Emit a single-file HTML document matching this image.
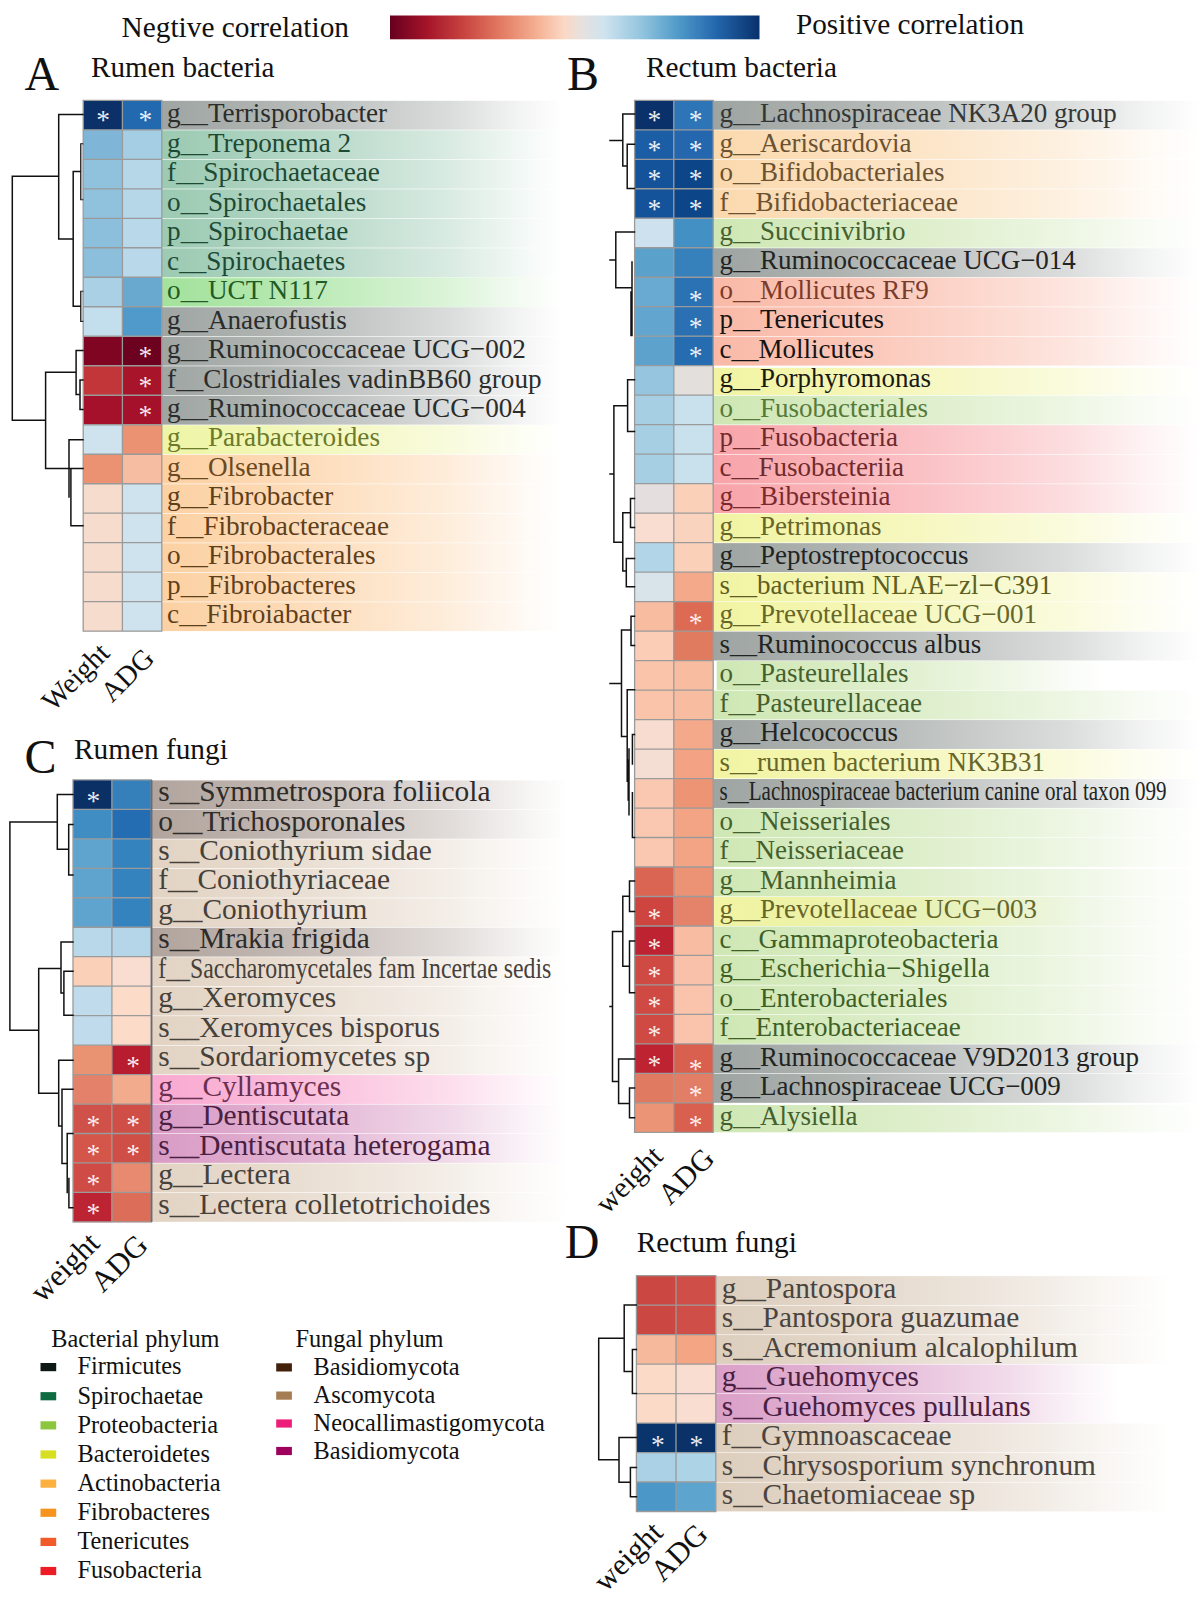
<!DOCTYPE html>
<html lang="en">
<head>
<meta charset="utf-8">
<title>Correlation heatmaps</title>
<style>
html,body{margin:0;padding:0;background:#fff;}
body{width:1202px;height:1598px;overflow:hidden;}
svg{display:block;}
svg text{font-family:"Liberation Serif", "DejaVu Serif", serif;white-space:pre;}
.st{font-size:27.5px;fill:#fff;fill-opacity:.92;text-anchor:middle;}
</style>
</head>
<body>
<svg width="1202" height="1598" viewBox="0 0 1202 1598">
<defs>
<linearGradient id="cb" x1="0" y1="0" x2="1" y2="0"><stop offset="0" stop-color="#67001f"/><stop offset="0.1" stop-color="#a51429"/><stop offset="0.2" stop-color="#c84440"/><stop offset="0.3" stop-color="#e27b62"/><stop offset="0.4" stop-color="#f5b194"/><stop offset="0.47" stop-color="#fbd8c4"/><stop offset="0.52" stop-color="#e6e1df"/><stop offset="0.58" stop-color="#cfe3ef"/><stop offset="0.68" stop-color="#93c5de"/><stop offset="0.78" stop-color="#4f9ac9"/><stop offset="0.88" stop-color="#2468ae"/><stop offset="1" stop-color="#08306b"/></linearGradient>
<linearGradient id="g0" x1="0" y1="0" x2="1" y2="0"><stop offset="0" stop-color="#9fa5a2" stop-opacity="1"/><stop offset="0.25" stop-color="#9fa5a2" stop-opacity="0.84"/><stop offset="0.47" stop-color="#9fa5a2" stop-opacity="0.64"/><stop offset="0.72" stop-color="#9fa5a2" stop-opacity="0.38"/><stop offset="0.89" stop-color="#9fa5a2" stop-opacity="0.13"/><stop offset="1" stop-color="#9fa5a2" stop-opacity="0"/></linearGradient>
<linearGradient id="g1" x1="0" y1="0" x2="1" y2="0"><stop offset="0" stop-color="#9ccab3" stop-opacity="1"/><stop offset="0.25" stop-color="#9ccab3" stop-opacity="0.84"/><stop offset="0.47" stop-color="#9ccab3" stop-opacity="0.64"/><stop offset="0.72" stop-color="#9ccab3" stop-opacity="0.38"/><stop offset="0.89" stop-color="#9ccab3" stop-opacity="0.13"/><stop offset="1" stop-color="#9ccab3" stop-opacity="0"/></linearGradient>
<linearGradient id="g2" x1="0" y1="0" x2="1" y2="0"><stop offset="0" stop-color="#a3e29c" stop-opacity="1"/><stop offset="0.25" stop-color="#a3e29c" stop-opacity="0.84"/><stop offset="0.47" stop-color="#a3e29c" stop-opacity="0.64"/><stop offset="0.72" stop-color="#a3e29c" stop-opacity="0.38"/><stop offset="0.89" stop-color="#a3e29c" stop-opacity="0.13"/><stop offset="1" stop-color="#a3e29c" stop-opacity="0"/></linearGradient>
<linearGradient id="g3" x1="0" y1="0" x2="1" y2="0"><stop offset="0" stop-color="#d0f2cb" stop-opacity="1"/><stop offset="0.25" stop-color="#d0f2cb" stop-opacity="0.84"/><stop offset="0.47" stop-color="#d0f2cb" stop-opacity="0.64"/><stop offset="0.72" stop-color="#d0f2cb" stop-opacity="0.38"/><stop offset="0.89" stop-color="#d0f2cb" stop-opacity="0.13"/><stop offset="1" stop-color="#d0f2cb" stop-opacity="0"/></linearGradient>
<linearGradient id="g4" x1="0" y1="0" x2="1" y2="0"><stop offset="0" stop-color="#eef5a6" stop-opacity="1"/><stop offset="0.25" stop-color="#eef5a6" stop-opacity="0.84"/><stop offset="0.47" stop-color="#eef5a6" stop-opacity="0.64"/><stop offset="0.72" stop-color="#eef5a6" stop-opacity="0.38"/><stop offset="0.89" stop-color="#eef5a6" stop-opacity="0.13"/><stop offset="1" stop-color="#eef5a6" stop-opacity="0"/></linearGradient>
<linearGradient id="g5" x1="0" y1="0" x2="1" y2="0"><stop offset="0" stop-color="#fdd0a2" stop-opacity="1"/><stop offset="0.25" stop-color="#fdd0a2" stop-opacity="0.84"/><stop offset="0.47" stop-color="#fdd0a2" stop-opacity="0.64"/><stop offset="0.72" stop-color="#fdd0a2" stop-opacity="0.38"/><stop offset="0.89" stop-color="#fdd0a2" stop-opacity="0.13"/><stop offset="1" stop-color="#fdd0a2" stop-opacity="0"/></linearGradient>
<linearGradient id="g6" x1="0" y1="0" x2="1" y2="0"><stop offset="0" stop-color="#fcd1a3" stop-opacity="1"/><stop offset="0.25" stop-color="#fcd1a3" stop-opacity="0.84"/><stop offset="0.47" stop-color="#fcd1a3" stop-opacity="0.64"/><stop offset="0.72" stop-color="#fcd1a3" stop-opacity="0.38"/><stop offset="0.89" stop-color="#fcd1a3" stop-opacity="0.13"/><stop offset="1" stop-color="#fcd1a3" stop-opacity="0"/></linearGradient>
<linearGradient id="g7" x1="0" y1="0" x2="1" y2="0"><stop offset="0" stop-color="#9ea4a1" stop-opacity="1"/><stop offset="0.25" stop-color="#9ea4a1" stop-opacity="0.84"/><stop offset="0.47" stop-color="#9ea4a1" stop-opacity="0.64"/><stop offset="0.72" stop-color="#9ea4a1" stop-opacity="0.38"/><stop offset="0.89" stop-color="#9ea4a1" stop-opacity="0.13"/><stop offset="1" stop-color="#9ea4a1" stop-opacity="0"/></linearGradient>
<linearGradient id="g8" x1="0" y1="0" x2="1" y2="0"><stop offset="0" stop-color="#fbd9ae" stop-opacity="1"/><stop offset="0.25" stop-color="#fbd9ae" stop-opacity="0.84"/><stop offset="0.47" stop-color="#fbd9ae" stop-opacity="0.64"/><stop offset="0.72" stop-color="#fbd9ae" stop-opacity="0.38"/><stop offset="0.89" stop-color="#fbd9ae" stop-opacity="0.13"/><stop offset="1" stop-color="#fbd9ae" stop-opacity="0"/></linearGradient>
<linearGradient id="g9" x1="0" y1="0" x2="1" y2="0"><stop offset="0" stop-color="#cfe7b4" stop-opacity="1"/><stop offset="0.25" stop-color="#cfe7b4" stop-opacity="0.84"/><stop offset="0.47" stop-color="#cfe7b4" stop-opacity="0.64"/><stop offset="0.72" stop-color="#cfe7b4" stop-opacity="0.38"/><stop offset="0.89" stop-color="#cfe7b4" stop-opacity="0.13"/><stop offset="1" stop-color="#cfe7b4" stop-opacity="0"/></linearGradient>
<linearGradient id="g10" x1="0" y1="0" x2="1" y2="0"><stop offset="0" stop-color="#fab9a7" stop-opacity="1"/><stop offset="0.25" stop-color="#fab9a7" stop-opacity="0.84"/><stop offset="0.47" stop-color="#fab9a7" stop-opacity="0.64"/><stop offset="0.72" stop-color="#fab9a7" stop-opacity="0.38"/><stop offset="0.89" stop-color="#fab9a7" stop-opacity="0.13"/><stop offset="1" stop-color="#fab9a7" stop-opacity="0"/></linearGradient>
<linearGradient id="g11" x1="0" y1="0" x2="1" y2="0"><stop offset="0" stop-color="#f2f4a3" stop-opacity="1"/><stop offset="0.25" stop-color="#f2f4a3" stop-opacity="0.84"/><stop offset="0.47" stop-color="#f2f4a3" stop-opacity="0.64"/><stop offset="0.72" stop-color="#f2f4a3" stop-opacity="0.38"/><stop offset="0.89" stop-color="#f2f4a3" stop-opacity="0.13"/><stop offset="1" stop-color="#f2f4a3" stop-opacity="0"/></linearGradient>
<linearGradient id="g12" x1="0" y1="0" x2="1" y2="0"><stop offset="0" stop-color="#f8a4a9" stop-opacity="1"/><stop offset="0.25" stop-color="#f8a4a9" stop-opacity="0.84"/><stop offset="0.47" stop-color="#f8a4a9" stop-opacity="0.64"/><stop offset="0.72" stop-color="#f8a4a9" stop-opacity="0.38"/><stop offset="0.89" stop-color="#f8a4a9" stop-opacity="0.13"/><stop offset="1" stop-color="#f8a4a9" stop-opacity="0"/></linearGradient>
<linearGradient id="g13" x1="0" y1="0" x2="1" y2="0"><stop offset="0" stop-color="#b1a49d" stop-opacity="1"/><stop offset="0.25" stop-color="#b1a49d" stop-opacity="0.84"/><stop offset="0.47" stop-color="#b1a49d" stop-opacity="0.64"/><stop offset="0.72" stop-color="#b1a49d" stop-opacity="0.38"/><stop offset="0.89" stop-color="#b1a49d" stop-opacity="0.13"/><stop offset="1" stop-color="#b1a49d" stop-opacity="0"/></linearGradient>
<linearGradient id="g14" x1="0" y1="0" x2="1" y2="0"><stop offset="0" stop-color="#e2d3c3" stop-opacity="1"/><stop offset="0.25" stop-color="#e2d3c3" stop-opacity="0.84"/><stop offset="0.47" stop-color="#e2d3c3" stop-opacity="0.64"/><stop offset="0.72" stop-color="#e2d3c3" stop-opacity="0.38"/><stop offset="0.89" stop-color="#e2d3c3" stop-opacity="0.13"/><stop offset="1" stop-color="#e2d3c3" stop-opacity="0"/></linearGradient>
<linearGradient id="g15" x1="0" y1="0" x2="1" y2="0"><stop offset="0" stop-color="#f9a9d0" stop-opacity="1"/><stop offset="0.25" stop-color="#f9a9d0" stop-opacity="0.84"/><stop offset="0.47" stop-color="#f9a9d0" stop-opacity="0.64"/><stop offset="0.72" stop-color="#f9a9d0" stop-opacity="0.38"/><stop offset="0.89" stop-color="#f9a9d0" stop-opacity="0.13"/><stop offset="1" stop-color="#f9a9d0" stop-opacity="0"/></linearGradient>
<linearGradient id="g16" x1="0" y1="0" x2="1" y2="0"><stop offset="0" stop-color="#d99bc5" stop-opacity="1"/><stop offset="0.25" stop-color="#d99bc5" stop-opacity="0.84"/><stop offset="0.47" stop-color="#d99bc5" stop-opacity="0.64"/><stop offset="0.72" stop-color="#d99bc5" stop-opacity="0.38"/><stop offset="0.89" stop-color="#d99bc5" stop-opacity="0.13"/><stop offset="1" stop-color="#d99bc5" stop-opacity="0"/></linearGradient>
<linearGradient id="g17" x1="0" y1="0" x2="1" y2="0"><stop offset="0" stop-color="#ddcebd" stop-opacity="1"/><stop offset="0.25" stop-color="#ddcebd" stop-opacity="0.84"/><stop offset="0.47" stop-color="#ddcebd" stop-opacity="0.64"/><stop offset="0.72" stop-color="#ddcebd" stop-opacity="0.38"/><stop offset="0.89" stop-color="#ddcebd" stop-opacity="0.13"/><stop offset="1" stop-color="#ddcebd" stop-opacity="0"/></linearGradient>
<linearGradient id="g18" x1="0" y1="0" x2="1" y2="0"><stop offset="0" stop-color="#dba0c8" stop-opacity="1"/><stop offset="0.25" stop-color="#dba0c8" stop-opacity="0.84"/><stop offset="0.47" stop-color="#dba0c8" stop-opacity="0.64"/><stop offset="0.72" stop-color="#dba0c8" stop-opacity="0.38"/><stop offset="0.89" stop-color="#dba0c8" stop-opacity="0.13"/><stop offset="1" stop-color="#dba0c8" stop-opacity="0"/></linearGradient>
</defs>
<rect x="390" y="15.5" width="369.5" height="23.8" fill="url(#cb)"/>
<text x="121.5" y="36.5" font-size="29.3" fill="#111" textLength="227.5" lengthAdjust="spacingAndGlyphs">Negtive correlation</text>
<text x="796" y="34.3" font-size="29.3" fill="#111" textLength="228" lengthAdjust="spacingAndGlyphs">Positive correlation</text>
<text x="24.6" y="89.6" font-size="48" fill="#111">A</text>
<text x="91" y="77" font-size="29.3" fill="#111" textLength="183.5" lengthAdjust="spacingAndGlyphs">Rumen bacteria</text>
<text x="567" y="89.6" font-size="48" fill="#111">B</text>
<text x="646" y="77.3" font-size="29.3" fill="#111" textLength="191" lengthAdjust="spacingAndGlyphs">Rectum bacteria</text>
<text x="24.6" y="773.4" font-size="48" fill="#111">C</text>
<text x="74" y="759.2" font-size="29.3" fill="#111">Rumen fungi</text>
<text x="564.8" y="1257.6" font-size="48" fill="#111">D</text>
<text x="636.8" y="1251.6" font-size="29.3" fill="#111" textLength="160" lengthAdjust="spacingAndGlyphs">Rectum fungi</text>
<rect x="161.80" y="100.80" width="401.20" height="28.89" fill="url(#g0)"/>
<rect x="161.80" y="130.29" width="401.20" height="28.89" fill="url(#g1)"/>
<rect x="161.80" y="159.79" width="401.20" height="28.89" fill="url(#g1)"/>
<rect x="161.80" y="189.28" width="401.20" height="28.89" fill="url(#g1)"/>
<rect x="161.80" y="218.78" width="401.20" height="28.89" fill="url(#g1)"/>
<rect x="161.80" y="248.27" width="401.20" height="28.89" fill="url(#g1)"/>
<rect x="161.80" y="277.77" width="401.20" height="28.89" fill="url(#g2)" stroke="url(#g3)" stroke-width="1.2"/>
<rect x="161.80" y="307.26" width="401.20" height="28.89" fill="url(#g0)"/>
<rect x="161.80" y="336.76" width="401.20" height="28.89" fill="url(#g0)"/>
<rect x="161.80" y="366.25" width="401.20" height="28.89" fill="url(#g0)"/>
<rect x="161.80" y="395.74" width="401.20" height="28.89" fill="url(#g0)"/>
<rect x="161.80" y="425.24" width="401.20" height="28.89" fill="url(#g4)"/>
<rect x="161.80" y="454.73" width="401.20" height="28.89" fill="url(#g5)"/>
<rect x="161.80" y="484.23" width="401.20" height="28.89" fill="url(#g6)"/>
<rect x="161.80" y="513.72" width="401.20" height="28.89" fill="url(#g6)"/>
<rect x="161.80" y="543.22" width="401.20" height="28.89" fill="url(#g6)"/>
<rect x="161.80" y="572.71" width="401.20" height="28.89" fill="url(#g6)"/>
<rect x="161.80" y="602.21" width="401.20" height="28.89" fill="url(#g6)"/>
<rect x="83.20" y="100.30" width="39.20" height="29.79" fill="#0b3168"/>
<rect x="122.40" y="100.30" width="39.40" height="29.79" fill="#2369b0"/>
<rect x="83.20" y="129.79" width="39.20" height="29.79" fill="#7fb6d7"/>
<rect x="122.40" y="129.79" width="39.40" height="29.79" fill="#a5cde3"/>
<rect x="83.20" y="159.29" width="39.20" height="29.79" fill="#90c2de"/>
<rect x="122.40" y="159.29" width="39.40" height="29.79" fill="#b6d7e8"/>
<rect x="83.20" y="188.78" width="39.20" height="29.79" fill="#90c2de"/>
<rect x="122.40" y="188.78" width="39.40" height="29.79" fill="#b6d7e8"/>
<rect x="83.20" y="218.28" width="39.20" height="29.79" fill="#8cbfdc"/>
<rect x="122.40" y="218.28" width="39.40" height="29.79" fill="#b9d8ea"/>
<rect x="83.20" y="247.77" width="39.20" height="29.79" fill="#8cbfdc"/>
<rect x="122.40" y="247.77" width="39.40" height="29.79" fill="#b9d8ea"/>
<rect x="83.20" y="277.27" width="39.20" height="29.79" fill="#a9d0e5"/>
<rect x="122.40" y="277.27" width="39.40" height="29.79" fill="#69a9d0"/>
<rect x="83.20" y="306.76" width="39.20" height="29.79" fill="#c3deed"/>
<rect x="122.40" y="306.76" width="39.40" height="29.79" fill="#4f9aca"/>
<rect x="83.20" y="336.26" width="39.20" height="29.79" fill="#7f0523"/>
<rect x="122.40" y="336.26" width="39.40" height="29.79" fill="#6d0220"/>
<rect x="83.20" y="365.75" width="39.20" height="29.79" fill="#c23639"/>
<rect x="122.40" y="365.75" width="39.40" height="29.79" fill="#a8152b"/>
<rect x="83.20" y="395.24" width="39.20" height="29.79" fill="#a5112b"/>
<rect x="122.40" y="395.24" width="39.40" height="29.79" fill="#a5112b"/>
<rect x="83.20" y="424.74" width="39.20" height="29.79" fill="#cfe3ef"/>
<rect x="122.40" y="424.74" width="39.40" height="29.79" fill="#ea9272"/>
<rect x="83.20" y="454.23" width="39.20" height="29.79" fill="#ea9272"/>
<rect x="122.40" y="454.23" width="39.40" height="29.79" fill="#f7bda3"/>
<rect x="83.20" y="483.73" width="39.20" height="29.79" fill="#f6dccd"/>
<rect x="122.40" y="483.73" width="39.40" height="29.79" fill="#cfe3ef"/>
<rect x="83.20" y="513.22" width="39.20" height="29.79" fill="#f6dccd"/>
<rect x="122.40" y="513.22" width="39.40" height="29.79" fill="#cfe3ef"/>
<rect x="83.20" y="542.72" width="39.20" height="29.79" fill="#f6dccd"/>
<rect x="122.40" y="542.72" width="39.40" height="29.79" fill="#cfe3ef"/>
<rect x="83.20" y="572.21" width="39.20" height="29.79" fill="#f6dccd"/>
<rect x="122.40" y="572.21" width="39.40" height="29.79" fill="#cfe3ef"/>
<rect x="83.20" y="601.71" width="39.20" height="29.79" fill="#f6dccd"/>
<rect x="122.40" y="601.71" width="39.40" height="29.79" fill="#cfe3ef"/>
<path d="M83.20 100.30H161.80M83.20 129.79H161.80M83.20 159.29H161.80M83.20 188.78H161.80M83.20 218.28H161.80M83.20 247.77H161.80M83.20 277.27H161.80M83.20 306.76H161.80M83.20 336.26H161.80M83.20 365.75H161.80M83.20 395.24H161.80M83.20 424.74H161.80M83.20 454.23H161.80M83.20 483.73H161.80M83.20 513.22H161.80M83.20 542.72H161.80M83.20 572.21H161.80M83.20 601.71H161.80M83.20 631.20H161.80M83.20 100.30V631.20M122.40 100.30V631.20M161.80 100.30V631.20" stroke="#9a9a9a" stroke-width="1.3" fill="none" stroke-linecap="square"/>
<text class="st" x="103.20" y="129.35">*</text>
<text class="st" x="145.30" y="129.35">*</text>
<text class="st" x="145.30" y="365.30">*</text>
<text class="st" x="145.30" y="394.80">*</text>
<text class="st" x="145.30" y="424.29">*</text>
<text x="167.10" y="122.05" font-size="27.20" fill="#2b2d2c">g__Terrisporobacter</text>
<text x="167.10" y="151.54" font-size="27.20" fill="#1d4a35">g__Treponema 2</text>
<text x="167.10" y="181.04" font-size="27.20" fill="#1d4a35">f__Spirochaetaceae</text>
<text x="167.10" y="210.53" font-size="27.20" fill="#1d4a35">o__Spirochaetales</text>
<text x="167.10" y="240.03" font-size="27.20" fill="#1d4a35">p__Spirochaetae</text>
<text x="167.10" y="269.52" font-size="27.20" fill="#1d4a35">c__Spirochaetes</text>
<text x="167.10" y="299.01" font-size="27.20" fill="#215c26">o__UCT N117</text>
<text x="167.10" y="328.51" font-size="27.20" fill="#2b2d2c">g__Anaerofustis</text>
<text x="167.10" y="358.00" font-size="27.20" fill="#2b2d2c">g__Ruminococcaceae UCG−002</text>
<text x="167.10" y="387.50" font-size="27.20" fill="#2b2d2c">f__Clostridiales vadinBB60 group</text>
<text x="167.10" y="416.99" font-size="27.20" fill="#2b2d2c">g__Ruminococcaceae UCG−004</text>
<text x="167.10" y="446.49" font-size="27.20" fill="#6d7a2a">g__Parabacteroides</text>
<text x="167.10" y="475.98" font-size="27.20" fill="#6b4a22">g__Olsenella</text>
<text x="167.10" y="505.48" font-size="27.20" fill="#5e3f1c">g__Fibrobacter</text>
<text x="167.10" y="534.97" font-size="27.20" fill="#5e3f1c">f__Fibrobacteraceae</text>
<text x="167.10" y="564.46" font-size="27.20" fill="#5e3f1c">o__Fibrobacterales</text>
<text x="167.10" y="593.96" font-size="27.20" fill="#5e3f1c">p__Fibrobacteres</text>
<text x="167.10" y="623.45" font-size="27.20" fill="#5e3f1c">c__Fibroiabacter</text>
<path d="M83 114.5H58.7V238.9H73.2 M73.2 171.4V306.3 M73.2 171.4H80.9 M82.5 144H80.9V199.5H82.5 M73.2 306.3H80.9 M82.5 291.4H80.9V321.2H82.5 M58.7 176.3H12.3V420.3H45.6 M45.6 372.3V468.5 M45.6 372.3H76.1 M76.1 350.4V394.5 M76.1 350.4H83 M76.1 394.5H80 M80 380V409.6 M80 380H83 M80 409.6H83 M45.6 468.5H83 M69 439.7V497 M69 439.7H83 M70.9 468.8V525.7H83" stroke="#111" stroke-width="1.5" fill="none" stroke-linecap="square" stroke-linejoin="miter"/>
<text font-size="28.5" fill="#111" transform="translate(111.0 654.7) rotate(-45)" text-anchor="end">Weight</text>
<text font-size="28.5" fill="#111" transform="translate(155.7 659.9) rotate(-45)" text-anchor="end">ADG</text>
<rect x="713.20" y="100.80" width="486.80" height="28.89" fill="url(#g7)"/>
<rect x="713.20" y="130.29" width="486.80" height="28.89" fill="url(#g8)"/>
<rect x="713.20" y="159.78" width="486.80" height="28.89" fill="url(#g8)"/>
<rect x="713.20" y="189.27" width="486.80" height="28.89" fill="url(#g8)"/>
<rect x="713.20" y="218.75" width="486.80" height="28.89" fill="url(#g9)"/>
<rect x="713.20" y="248.24" width="486.80" height="28.89" fill="url(#g7)"/>
<rect x="713.20" y="277.73" width="486.80" height="28.89" fill="url(#g10)"/>
<rect x="713.20" y="307.22" width="486.80" height="28.89" fill="url(#g10)"/>
<rect x="713.20" y="336.71" width="486.80" height="28.89" fill="url(#g10)"/>
<rect x="713.20" y="367.80" width="486.80" height="27.29" fill="url(#g11)"/>
<rect x="713.20" y="395.69" width="486.80" height="28.89" fill="url(#g9)"/>
<rect x="713.20" y="425.17" width="486.80" height="28.89" fill="url(#g12)"/>
<rect x="713.20" y="454.66" width="486.80" height="28.89" fill="url(#g12)"/>
<rect x="713.20" y="484.15" width="486.80" height="28.89" fill="url(#g12)"/>
<rect x="713.20" y="513.64" width="486.80" height="28.89" fill="url(#g11)"/>
<rect x="713.20" y="543.13" width="486.80" height="28.89" fill="url(#g7)"/>
<rect x="713.20" y="572.62" width="486.80" height="28.89" fill="url(#g11)"/>
<rect x="713.20" y="602.11" width="486.80" height="28.89" fill="url(#g11)"/>
<rect x="713.20" y="631.59" width="486.80" height="28.89" fill="url(#g7)"/>
<rect x="716.70" y="661.08" width="388.30" height="28.89" fill="url(#g9)"/>
<rect x="713.20" y="690.57" width="486.80" height="28.89" fill="url(#g9)"/>
<rect x="713.20" y="720.06" width="486.80" height="28.89" fill="url(#g7)"/>
<rect x="713.20" y="749.55" width="486.80" height="28.89" fill="url(#g11)"/>
<rect x="713.20" y="779.04" width="486.80" height="28.89" fill="url(#g7)"/>
<rect x="713.20" y="808.53" width="486.80" height="28.89" fill="url(#g9)"/>
<rect x="713.20" y="838.01" width="486.80" height="28.89" fill="url(#g9)"/>
<rect x="713.20" y="868.90" width="486.80" height="27.49" fill="url(#g9)"/>
<rect x="713.20" y="896.99" width="486.80" height="28.89" fill="url(#g9)"/>
<rect x="713.20" y="896.99" width="366.80" height="28.89" fill="url(#g11)"/>
<rect x="713.20" y="926.48" width="486.80" height="28.89" fill="url(#g9)"/>
<rect x="713.20" y="955.97" width="486.80" height="28.89" fill="url(#g9)"/>
<rect x="713.20" y="985.46" width="486.80" height="28.89" fill="url(#g9)"/>
<rect x="713.20" y="1014.95" width="486.80" height="28.89" fill="url(#g9)"/>
<rect x="713.20" y="1044.43" width="486.80" height="28.89" fill="url(#g7)"/>
<rect x="713.20" y="1073.92" width="486.80" height="28.89" fill="url(#g7)"/>
<rect x="713.20" y="1105.01" width="486.80" height="27.29" fill="url(#g9)"/>
<rect x="634.60" y="100.30" width="39.20" height="29.79" fill="#0a3169"/>
<rect x="673.80" y="100.30" width="39.40" height="29.79" fill="#2d75b6"/>
<rect x="634.60" y="129.79" width="39.20" height="29.79" fill="#1c5ea5"/>
<rect x="673.80" y="129.79" width="39.40" height="29.79" fill="#2467ae"/>
<rect x="634.60" y="159.28" width="39.20" height="29.79" fill="#14529a"/>
<rect x="673.80" y="159.28" width="39.40" height="29.79" fill="#0d4688"/>
<rect x="634.60" y="188.77" width="39.20" height="29.79" fill="#14529a"/>
<rect x="673.80" y="188.77" width="39.40" height="29.79" fill="#0d4688"/>
<rect x="634.60" y="218.25" width="39.20" height="29.79" fill="#cde2ee"/>
<rect x="673.80" y="218.25" width="39.40" height="29.79" fill="#4390c4"/>
<rect x="634.60" y="247.74" width="39.20" height="29.79" fill="#5aa1cc"/>
<rect x="673.80" y="247.74" width="39.40" height="29.79" fill="#3680bc"/>
<rect x="634.60" y="277.23" width="39.20" height="29.79" fill="#68aad1"/>
<rect x="673.80" y="277.23" width="39.40" height="29.79" fill="#2b72b4"/>
<rect x="634.60" y="306.72" width="39.20" height="29.79" fill="#62a6cf"/>
<rect x="673.80" y="306.72" width="39.40" height="29.79" fill="#2a70b3"/>
<rect x="634.60" y="336.21" width="39.20" height="29.79" fill="#5da2cd"/>
<rect x="673.80" y="336.21" width="39.40" height="29.79" fill="#256cb0"/>
<rect x="634.60" y="365.70" width="39.20" height="29.79" fill="#96c5df"/>
<rect x="673.80" y="365.70" width="39.40" height="29.79" fill="#e2dfdd"/>
<rect x="634.60" y="395.19" width="39.20" height="29.79" fill="#a6cfe4"/>
<rect x="673.80" y="395.19" width="39.40" height="29.79" fill="#c9e0ed"/>
<rect x="634.60" y="424.67" width="39.20" height="29.79" fill="#a6cfe4"/>
<rect x="673.80" y="424.67" width="39.40" height="29.79" fill="#c9e0ed"/>
<rect x="634.60" y="454.16" width="39.20" height="29.79" fill="#a6cfe4"/>
<rect x="673.80" y="454.16" width="39.40" height="29.79" fill="#c9e0ed"/>
<rect x="634.60" y="483.65" width="39.20" height="29.79" fill="#e4dfde"/>
<rect x="673.80" y="483.65" width="39.40" height="29.79" fill="#fbd0b9"/>
<rect x="634.60" y="513.14" width="39.20" height="29.79" fill="#f8ddd0"/>
<rect x="673.80" y="513.14" width="39.40" height="29.79" fill="#fad3bf"/>
<rect x="634.60" y="542.63" width="39.20" height="29.79" fill="#b2d6e8"/>
<rect x="673.80" y="542.63" width="39.40" height="29.79" fill="#fbd0b9"/>
<rect x="634.60" y="572.12" width="39.20" height="29.79" fill="#d9e3ea"/>
<rect x="673.80" y="572.12" width="39.40" height="29.79" fill="#f4a98a"/>
<rect x="634.60" y="601.61" width="39.20" height="29.79" fill="#f8bca0"/>
<rect x="673.80" y="601.61" width="39.40" height="29.79" fill="#dd6b54"/>
<rect x="634.60" y="631.09" width="39.20" height="29.79" fill="#fbcdb6"/>
<rect x="673.80" y="631.09" width="39.40" height="29.79" fill="#e17b60"/>
<rect x="634.60" y="660.58" width="39.20" height="29.79" fill="#fac4aa"/>
<rect x="673.80" y="660.58" width="39.40" height="29.79" fill="#f8bda1"/>
<rect x="634.60" y="690.07" width="39.20" height="29.79" fill="#fac4aa"/>
<rect x="673.80" y="690.07" width="39.40" height="29.79" fill="#f8bda1"/>
<rect x="634.60" y="719.56" width="39.20" height="29.79" fill="#f8dccf"/>
<rect x="673.80" y="719.56" width="39.40" height="29.79" fill="#f4a98a"/>
<rect x="634.60" y="749.05" width="39.20" height="29.79" fill="#f4ddd2"/>
<rect x="673.80" y="749.05" width="39.40" height="29.79" fill="#f3a283"/>
<rect x="634.60" y="778.54" width="39.20" height="29.79" fill="#fac8b0"/>
<rect x="673.80" y="778.54" width="39.40" height="29.79" fill="#ec9474"/>
<rect x="634.60" y="808.03" width="39.20" height="29.79" fill="#fac8b0"/>
<rect x="673.80" y="808.03" width="39.40" height="29.79" fill="#f3a485"/>
<rect x="634.60" y="837.51" width="39.20" height="29.79" fill="#fac8b0"/>
<rect x="673.80" y="837.51" width="39.40" height="29.79" fill="#f3a485"/>
<rect x="634.60" y="867.00" width="39.20" height="29.79" fill="#da6552"/>
<rect x="673.80" y="867.00" width="39.40" height="29.79" fill="#ec9375"/>
<rect x="634.60" y="896.49" width="39.20" height="29.79" fill="#ce4540"/>
<rect x="673.80" y="896.49" width="39.40" height="29.79" fill="#e5826a"/>
<rect x="634.60" y="925.98" width="39.20" height="29.79" fill="#bd2330"/>
<rect x="673.80" y="925.98" width="39.40" height="29.79" fill="#f8bca2"/>
<rect x="634.60" y="955.47" width="39.20" height="29.79" fill="#d04a44"/>
<rect x="673.80" y="955.47" width="39.40" height="29.79" fill="#f9c1a9"/>
<rect x="634.60" y="984.96" width="39.20" height="29.79" fill="#d04a44"/>
<rect x="673.80" y="984.96" width="39.40" height="29.79" fill="#f9c3ac"/>
<rect x="634.60" y="1014.45" width="39.20" height="29.79" fill="#d04a44"/>
<rect x="673.80" y="1014.45" width="39.40" height="29.79" fill="#f9c3ac"/>
<rect x="634.60" y="1043.93" width="39.20" height="29.79" fill="#bd2330"/>
<rect x="673.80" y="1043.93" width="39.40" height="29.79" fill="#d95f4e"/>
<rect x="634.60" y="1073.42" width="39.20" height="29.79" fill="#e07a60"/>
<rect x="673.80" y="1073.42" width="39.40" height="29.79" fill="#e27e66"/>
<rect x="634.60" y="1102.91" width="39.20" height="29.79" fill="#ec9576"/>
<rect x="673.80" y="1102.91" width="39.40" height="29.79" fill="#d95f4e"/>
<path d="M634.60 100.30H713.20M634.60 129.79H713.20M634.60 159.28H713.20M634.60 188.77H713.20M634.60 218.25H713.20M634.60 247.74H713.20M634.60 277.23H713.20M634.60 306.72H713.20M634.60 336.21H713.20M634.60 365.70H713.20M634.60 395.19H713.20M634.60 424.67H713.20M634.60 454.16H713.20M634.60 483.65H713.20M634.60 513.14H713.20M634.60 542.63H713.20M634.60 572.12H713.20M634.60 601.61H713.20M634.60 631.09H713.20M634.60 660.58H713.20M634.60 690.07H713.20M634.60 719.56H713.20M634.60 749.05H713.20M634.60 778.54H713.20M634.60 808.03H713.20M634.60 837.51H713.20M634.60 867.00H713.20M634.60 896.49H713.20M634.60 925.98H713.20M634.60 955.47H713.20M634.60 984.96H713.20M634.60 1014.45H713.20M634.60 1043.93H713.20M634.60 1073.42H713.20M634.60 1102.91H713.20M634.60 1132.40H713.20M634.60 100.30V1132.40M673.80 100.30V1132.40M713.20 100.30V1132.40" stroke="#9a9a9a" stroke-width="1.3" fill="none" stroke-linecap="square"/>
<text class="st" x="654.30" y="129.44">*</text>
<text class="st" x="695.50" y="129.44">*</text>
<text class="st" x="654.30" y="158.83">*</text>
<text class="st" x="695.50" y="158.83">*</text>
<text class="st" x="654.30" y="188.32">*</text>
<text class="st" x="695.50" y="188.32">*</text>
<text class="st" x="654.30" y="218.11">*</text>
<text class="st" x="695.50" y="218.11">*</text>
<text class="st" x="695.50" y="308.58">*</text>
<text class="st" x="695.50" y="335.76">*</text>
<text class="st" x="695.50" y="365.35">*</text>
<text class="st" x="695.50" y="631.65">*</text>
<text class="st" x="654.30" y="927.04">*</text>
<text class="st" x="654.30" y="956.52">*</text>
<text class="st" x="654.30" y="985.31">*</text>
<text class="st" x="654.30" y="1014.90">*</text>
<text class="st" x="654.30" y="1043.99">*</text>
<text class="st" x="654.30" y="1074.08">*</text>
<text class="st" x="695.50" y="1077.88">*</text>
<text class="st" x="695.50" y="1103.67">*</text>
<text class="st" x="695.50" y="1134.26">*</text>
<text x="719.50" y="122.04" font-size="27.00" fill="#333635">g__Lachnospiraceae NK3A20 group</text>
<text x="719.50" y="151.53" font-size="27.00" fill="#6a5232">g__Aeriscardovia</text>
<text x="719.50" y="181.02" font-size="27.00" fill="#6a5232">o__Bifidobacteriales</text>
<text x="719.50" y="210.51" font-size="27.00" fill="#6a5232">f__Bifidobacteriaceae</text>
<text x="719.50" y="240.00" font-size="27.00" fill="#44602e">g__Succinivibrio</text>
<text x="719.50" y="269.49" font-size="27.00" fill="#222423">g__Ruminococcaceae UCG−014</text>
<text x="719.50" y="298.98" font-size="27.00" fill="#7a3b2a">o__Mollicutes RF9</text>
<text x="719.50" y="328.46" font-size="27.00" fill="#141414">p__Tenericutes</text>
<text x="719.50" y="357.95" font-size="27.00" fill="#141414">c__Mollicutes</text>
<text x="719.50" y="387.44" font-size="27.00" fill="#1a1a14">g__Porphyromonas</text>
<text x="719.50" y="416.93" font-size="27.00" fill="#557a3a">o__Fusobacteriales</text>
<text x="719.50" y="446.42" font-size="27.00" fill="#6e2a2c">p__Fusobacteria</text>
<text x="719.50" y="475.91" font-size="27.00" fill="#6e2a2c">c__Fusobacteriia</text>
<text x="719.50" y="505.40" font-size="27.00" fill="#7a2a2e">g__Bibersteinia</text>
<text x="719.50" y="534.88" font-size="27.00" fill="#66662a">g__Petrimonas</text>
<text x="719.50" y="564.37" font-size="27.00" fill="#222423">g__Peptostreptococcus</text>
<text x="719.50" y="593.86" font-size="27.00" fill="#5e5e22">s__bacterium NLAE−zl−C391</text>
<text x="719.50" y="623.35" font-size="27.00" fill="#66662a">g__Prevotellaceae UCG−001</text>
<text x="719.50" y="652.84" font-size="27.00" fill="#222423">s__Ruminococcus albus</text>
<text x="719.50" y="682.33" font-size="27.00" fill="#44602e">o__Pasteurellales</text>
<text x="719.50" y="711.82" font-size="27.00" fill="#44602e">f__Pasteurellaceae</text>
<text x="719.50" y="741.30" font-size="27.00" fill="#222423">g__Helcococcus</text>
<text x="719.50" y="770.79" font-size="27.00" fill="#66662a">s__rumen bacterium NK3B31</text>
<text x="719.50" y="800.28" font-size="27.00" fill="#222423" textLength="447.0" lengthAdjust="spacingAndGlyphs">s__Lachnospiraceae bacterium canine oral taxon 099</text>
<text x="719.50" y="829.77" font-size="27.00" fill="#44602e">o__Neisseriales</text>
<text x="719.50" y="859.26" font-size="27.00" fill="#44602e">f__Neisseriaceae</text>
<text x="719.50" y="888.75" font-size="27.00" fill="#44602e">g__Mannheimia</text>
<text x="719.50" y="918.24" font-size="27.00" fill="#66662a">g__Prevotellaceae UCG−003</text>
<text x="719.50" y="947.72" font-size="27.00" fill="#3f5f25">c__Gammaproteobacteria</text>
<text x="719.50" y="977.21" font-size="27.00" fill="#3f5f25">g__Escherichia−Shigella</text>
<text x="719.50" y="1006.70" font-size="27.00" fill="#3f5f25">o__Enterobacteriales</text>
<text x="719.50" y="1036.19" font-size="27.00" fill="#3f5f25">f__Enterobacteriaceae</text>
<text x="719.50" y="1065.68" font-size="27.00" fill="#222423">g__Ruminococcaceae V9D2013 group</text>
<text x="719.50" y="1095.17" font-size="27.00" fill="#222423">g__Lachnospiraceae UCG−009</text>
<text x="719.50" y="1124.66" font-size="27.00" fill="#44602e">g__Alysiella</text>
<path d="M634.5 114H622.8V166H627.2 M627.2 144.2V188.5 M627.2 144.2H634.5 M627.2 188.5H634.5 M610 140.4H622.8 M634.5 232H615.8V287.7H632 M632 262V335.5 M631 292V335.5 M610 260H615.8 M634.5 379.7H627.6V431.6H634.5 M627.6 405.8H613.9V542.3H622.8 M610 474H613.9 M622.8 512.7V570.9 M622.8 512.7H630.5 M634.5 498.4H630.5V527.6H634.5 M622.8 570.9H626.3 M626.3 558.5V586.7 M626.3 558.5H634.5 M626.3 586.7H634.5 M634.5 616.2H631V645.4H634.5 M631 630H621.5V736.5H627.2 M610 683.4H621.5 M627.2 689.7V781.3 M627.2 689.7H634.5 M629 748.9V814.7 M634.5 734.5H632.4V764 M632.4 792.7V837.6H634.5 M628.2 760V800 M634.5 881H629.5V911.6H634.5 M629.5 896.3H622.8V966.3H629.5 M634.5 941H629.5V992.7H634.5 M622.8 931.6H612.5V1081.4H618.6 M610 1006.4H612.5 M618.6 1059V1103.4 M618.6 1059H634.5 M618.6 1103.4H629.5 M629.5 1088V1117.7 M629.5 1088H634.5 M629.5 1117.7H634.5" stroke="#111" stroke-width="1.5" fill="none" stroke-linecap="square" stroke-linejoin="miter"/>
<text font-size="29.6" fill="#111" transform="translate(664.2 1158.0) rotate(-45)" text-anchor="end">weight</text>
<text font-size="30.0" fill="#111" transform="translate(716.0 1160.2) rotate(-45)" text-anchor="end">ADG</text>
<rect x="151.30" y="780.40" width="416.70" height="28.87" fill="url(#g13)"/>
<rect x="151.30" y="809.87" width="416.70" height="28.87" fill="url(#g13)"/>
<rect x="151.30" y="839.33" width="416.70" height="28.87" fill="url(#g14)"/>
<rect x="151.30" y="868.80" width="416.70" height="28.87" fill="url(#g14)"/>
<rect x="151.30" y="898.27" width="416.70" height="28.87" fill="url(#g14)"/>
<rect x="151.30" y="927.73" width="416.70" height="28.87" fill="url(#g13)"/>
<rect x="151.30" y="957.20" width="416.70" height="28.87" fill="url(#g14)"/>
<rect x="151.30" y="986.67" width="416.70" height="28.87" fill="url(#g14)"/>
<rect x="151.30" y="1016.13" width="416.70" height="28.87" fill="url(#g14)"/>
<rect x="151.30" y="1045.60" width="416.70" height="28.87" fill="url(#g14)"/>
<rect x="151.30" y="1075.07" width="416.70" height="28.87" fill="url(#g15)"/>
<rect x="151.30" y="1104.53" width="416.70" height="28.87" fill="url(#g16)"/>
<rect x="151.30" y="1134.00" width="416.70" height="28.87" fill="url(#g16)"/>
<rect x="151.30" y="1163.47" width="416.70" height="28.87" fill="url(#g14)"/>
<rect x="151.30" y="1192.93" width="416.70" height="28.87" fill="url(#g14)"/>
<rect x="73.00" y="779.90" width="38.90" height="29.77" fill="#0a3066"/>
<rect x="111.90" y="779.90" width="39.40" height="29.77" fill="#357fba"/>
<rect x="73.00" y="809.37" width="38.90" height="29.77" fill="#3f8dc3"/>
<rect x="111.90" y="809.37" width="39.40" height="29.77" fill="#246db2"/>
<rect x="73.00" y="838.83" width="38.90" height="29.77" fill="#5fa4ce"/>
<rect x="111.90" y="838.83" width="39.40" height="29.77" fill="#3482be"/>
<rect x="73.00" y="868.30" width="38.90" height="29.77" fill="#5fa4ce"/>
<rect x="111.90" y="868.30" width="39.40" height="29.77" fill="#3482be"/>
<rect x="73.00" y="897.77" width="38.90" height="29.77" fill="#5fa4ce"/>
<rect x="111.90" y="897.77" width="39.40" height="29.77" fill="#3482be"/>
<rect x="73.00" y="927.23" width="38.90" height="29.77" fill="#b9d9ea"/>
<rect x="111.90" y="927.23" width="39.40" height="29.77" fill="#b4d6e8"/>
<rect x="73.00" y="956.70" width="38.90" height="29.77" fill="#fbd0b9"/>
<rect x="111.90" y="956.70" width="39.40" height="29.77" fill="#f8ddd0"/>
<rect x="73.00" y="986.17" width="38.90" height="29.77" fill="#c0dcec"/>
<rect x="111.90" y="986.17" width="39.40" height="29.77" fill="#fcdbc9"/>
<rect x="73.00" y="1015.63" width="38.90" height="29.77" fill="#c0dcec"/>
<rect x="111.90" y="1015.63" width="39.40" height="29.77" fill="#fcdbc9"/>
<rect x="73.00" y="1045.10" width="38.90" height="29.77" fill="#ea9373"/>
<rect x="111.90" y="1045.10" width="39.40" height="29.77" fill="#b71d2e"/>
<rect x="73.00" y="1074.57" width="38.90" height="29.77" fill="#e3816a"/>
<rect x="111.90" y="1074.57" width="39.40" height="29.77" fill="#f3ab8d"/>
<rect x="73.00" y="1104.03" width="38.90" height="29.77" fill="#d0514a"/>
<rect x="111.90" y="1104.03" width="39.40" height="29.77" fill="#cf4f47"/>
<rect x="73.00" y="1133.50" width="38.90" height="29.77" fill="#d4564a"/>
<rect x="111.90" y="1133.50" width="39.40" height="29.77" fill="#cf4f47"/>
<rect x="73.00" y="1162.97" width="38.90" height="29.77" fill="#cf4c46"/>
<rect x="111.90" y="1162.97" width="39.40" height="29.77" fill="#e78a70"/>
<rect x="73.00" y="1192.43" width="38.90" height="29.77" fill="#bd2433"/>
<rect x="111.90" y="1192.43" width="39.40" height="29.77" fill="#dc6e59"/>
<path d="M73.00 779.90H151.30M73.00 809.37H151.30M73.00 838.83H151.30M73.00 868.30H151.30M73.00 897.77H151.30M73.00 927.23H151.30M73.00 956.70H151.30M73.00 986.17H151.30M73.00 1015.63H151.30M73.00 1045.10H151.30M73.00 1074.57H151.30M73.00 1104.03H151.30M73.00 1133.50H151.30M73.00 1162.97H151.30M73.00 1192.43H151.30M73.00 1221.90H151.30M73.00 779.90V1221.90M111.90 779.90V1221.90M151.30 779.90V1221.90" stroke="#9a9a9a" stroke-width="1.3" fill="none" stroke-linecap="square"/>
<path d="M151.60 779.90V1221.90" stroke="#6a6a72" stroke-width="1.7" fill="none"/>
<text class="st" x="93.45" y="810.13">*</text>
<text class="st" x="133.00" y="1075.43">*</text>
<text class="st" x="93.45" y="1133.87">*</text>
<text class="st" x="133.00" y="1133.87">*</text>
<text class="st" x="93.45" y="1162.83">*</text>
<text class="st" x="133.00" y="1162.83">*</text>
<text class="st" x="93.45" y="1192.50">*</text>
<text class="st" x="93.45" y="1222.27">*</text>
<text x="158.30" y="801.03" font-size="29.40" fill="#2e2b29">s__Symmetrospora foliicola</text>
<text x="158.30" y="830.50" font-size="29.40" fill="#2e2b29">o__Trichosporonales</text>
<text x="158.30" y="859.97" font-size="29.40" fill="#46403b">s__Coniothyrium sidae</text>
<text x="158.30" y="889.43" font-size="29.40" fill="#46403b">f__Coniothyriaceae</text>
<text x="158.30" y="918.90" font-size="29.40" fill="#46403b">g__Coniothyrium</text>
<text x="158.30" y="948.37" font-size="29.40" fill="#2e2b29">s__Mrakia frigida</text>
<text x="158.30" y="977.83" font-size="29.40" fill="#46403b" textLength="393.0" lengthAdjust="spacingAndGlyphs">f__Saccharomycetales fam Incertae sedis</text>
<text x="158.30" y="1007.30" font-size="29.40" fill="#46403b">g__Xeromyces</text>
<text x="158.30" y="1036.77" font-size="29.40" fill="#46403b">s__Xeromyces bisporus</text>
<text x="158.30" y="1066.23" font-size="29.40" fill="#46403b">s__Sordariomycetes sp</text>
<text x="158.30" y="1095.70" font-size="29.40" fill="#6a3050">g__Cyllamyces</text>
<text x="158.30" y="1125.17" font-size="29.40" fill="#4a2042">g__Dentiscutata</text>
<text x="158.30" y="1154.63" font-size="29.40" fill="#4a2042">s__Dentiscutata heterogama</text>
<text x="158.30" y="1184.10" font-size="29.40" fill="#46403b">g__Lectera</text>
<text x="158.30" y="1213.57" font-size="29.40" fill="#46403b">s__Lectera colletotrichoides</text>
<path d="M73 794.4H57.3V849.2H68.7 M68.7 824.4V875 M68.7 824.4H73 M68.7 875H73 M57.3 821.9H9.9V1030.3H38.7 M38.7 968.5V1093.3 M38.7 968.5H61 M61 942V993 M61 942H73 M61 993H63.9 M63.9 971.3V1015.2 M63.9 971.3H73 M63.9 1015.2H73 M38.7 1093.3H58.7 M58.7 1060.3V1126 M58.7 1060.3H73 M58.7 1126H62 M62 1089.3V1163.6 M62 1089.3H73 M62 1163.6H67.2 M67.2 1133.6V1192.6 M67.2 1133.6H73 M68.9 1178.4V1207.8H73" stroke="#111" stroke-width="1.5" fill="none" stroke-linecap="square" stroke-linejoin="miter"/>
<text font-size="30.5" fill="#111" transform="translate(101.3 1245.0) rotate(-45)" text-anchor="end">weight</text>
<text font-size="30.5" fill="#111" transform="translate(149.6 1247.0) rotate(-45)" text-anchor="end">ADG</text>
<rect x="715.80" y="1276.10" width="456.20" height="28.89" fill="url(#g17)"/>
<rect x="715.80" y="1305.59" width="456.20" height="28.89" fill="url(#g17)"/>
<rect x="715.80" y="1335.07" width="456.20" height="28.89" fill="url(#g17)"/>
<rect x="715.80" y="1364.56" width="404.20" height="28.89" fill="url(#g18)"/>
<rect x="715.80" y="1394.05" width="404.20" height="28.89" fill="url(#g18)"/>
<rect x="715.80" y="1423.54" width="456.20" height="28.89" fill="url(#g17)"/>
<rect x="715.80" y="1453.03" width="456.20" height="28.89" fill="url(#g17)"/>
<rect x="715.80" y="1482.51" width="456.20" height="28.89" fill="url(#g17)"/>
<rect x="636.40" y="1275.60" width="39.60" height="29.79" fill="#cb4842"/>
<rect x="676.00" y="1275.60" width="39.80" height="29.79" fill="#cf4f48"/>
<rect x="636.40" y="1305.09" width="39.60" height="29.79" fill="#cb4842"/>
<rect x="676.00" y="1305.09" width="39.80" height="29.79" fill="#cf4f48"/>
<rect x="636.40" y="1334.57" width="39.60" height="29.79" fill="#f7b99c"/>
<rect x="676.00" y="1334.57" width="39.80" height="29.79" fill="#f3a584"/>
<rect x="636.40" y="1364.06" width="39.60" height="29.79" fill="#fbdac8"/>
<rect x="676.00" y="1364.06" width="39.80" height="29.79" fill="#f8ddd0"/>
<rect x="636.40" y="1393.55" width="39.60" height="29.79" fill="#fbdac8"/>
<rect x="676.00" y="1393.55" width="39.80" height="29.79" fill="#f8ddd0"/>
<rect x="636.40" y="1423.04" width="39.60" height="29.79" fill="#0a346c"/>
<rect x="676.00" y="1423.04" width="39.80" height="29.79" fill="#0a3269"/>
<rect x="636.40" y="1452.53" width="39.60" height="29.79" fill="#aad1e5"/>
<rect x="676.00" y="1452.53" width="39.80" height="29.79" fill="#add3e6"/>
<rect x="636.40" y="1482.01" width="39.60" height="29.79" fill="#4b97c8"/>
<rect x="676.00" y="1482.01" width="39.80" height="29.79" fill="#5da4cf"/>
<path d="M636.40 1275.60H715.80M636.40 1305.09H715.80M636.40 1334.57H715.80M636.40 1364.06H715.80M636.40 1393.55H715.80M636.40 1423.04H715.80M636.40 1452.53H715.80M636.40 1482.01H715.80M636.40 1511.50H715.80M636.40 1275.60V1511.50M676.00 1275.60V1511.50M715.80 1275.60V1511.50" stroke="#9a9a9a" stroke-width="1.3" fill="none" stroke-linecap="square"/>
<text class="st" x="657.80" y="1453.58">*</text>
<text class="st" x="696.30" y="1453.58">*</text>
<text x="721.80" y="1297.64" font-size="29.35" fill="#4a4440">g__Pantospora</text>
<text x="721.80" y="1327.13" font-size="29.35" fill="#4a4440">s__Pantospora guazumae</text>
<text x="721.80" y="1356.62" font-size="29.35" fill="#4a4440">s__Acremonium alcalophilum</text>
<text x="721.80" y="1386.11" font-size="29.35" fill="#4a2042">g__Guehomyces</text>
<text x="721.80" y="1415.59" font-size="29.35" fill="#4a2042">s__Guehomyces pullulans</text>
<text x="721.80" y="1445.08" font-size="29.35" fill="#4a4440">f__Gymnoascaceae</text>
<text x="721.80" y="1474.57" font-size="29.35" fill="#4a4440">s__Chrysosporium synchronum</text>
<text x="721.80" y="1504.06" font-size="29.35" fill="#4a4440">s__Chaetomiaceae sp</text>
<path d="M636.4 1304.9H624.2V1371.6H632.4 M632.4 1349.6V1393.5 M632.4 1349.6H636.4 M632.4 1393.5H636.4 M624.2 1338.2H598.7V1459.7H619 M619 1437.4V1482.2 M619 1437.4H636.4 M619 1482.2H630.4 M630.4 1467.5V1496.8 M630.4 1467.5H636.4 M630.4 1496.8H636.4" stroke="#111" stroke-width="1.5" fill="none" stroke-linecap="square" stroke-linejoin="miter"/>
<text font-size="30.5" fill="#111" transform="translate(664.4 1534.2) rotate(-45)" text-anchor="end">weight</text>
<text font-size="30.5" fill="#111" transform="translate(709.6 1536.2) rotate(-45)" text-anchor="end">ADG</text>
<rect x="81.3" y="144" width="1.4" height="55.5" fill="#b8b8b8"/><rect x="81.3" y="291.4" width="1.4" height="29.8" fill="#b8b8b8"/>
<text x="51.2" y="1347" font-size="24.35" fill="#111">Bacterial phylum</text>
<rect x="40.5" y="1363.00" width="15.7" height="8.2" fill="#0d1a14"/>
<text x="77.4" y="1374.40" font-size="24.35" fill="#111">Firmicutes</text>
<rect x="40.5" y="1392.13" width="15.7" height="8.2" fill="#0d6b3f"/>
<text x="77.4" y="1403.53" font-size="24.35" fill="#111">Spirochaetae</text>
<rect x="40.5" y="1421.26" width="15.7" height="8.2" fill="#8cc63f"/>
<text x="77.4" y="1432.66" font-size="24.35" fill="#111">Proteobacteria</text>
<rect x="40.5" y="1450.39" width="15.7" height="8.2" fill="#d7df23"/>
<text x="77.4" y="1461.79" font-size="24.35" fill="#111">Bacteroidetes</text>
<rect x="40.5" y="1479.52" width="15.7" height="8.2" fill="#fbb040"/>
<text x="77.4" y="1490.92" font-size="24.35" fill="#111">Actinobacteria</text>
<rect x="40.5" y="1508.65" width="15.7" height="8.2" fill="#f7941e"/>
<text x="77.4" y="1520.05" font-size="24.35" fill="#111">Fibrobacteres</text>
<rect x="40.5" y="1537.78" width="15.7" height="8.2" fill="#f15a29"/>
<text x="77.4" y="1549.18" font-size="24.35" fill="#111">Tenericutes</text>
<rect x="40.5" y="1566.91" width="15.7" height="8.2" fill="#ed1c24"/>
<text x="77.4" y="1578.31" font-size="24.35" fill="#111">Fusobacteria</text>
<text x="295.4" y="1347" font-size="24.35" fill="#111">Fungal phylum</text>
<rect x="276.2" y="1363.30" width="15.7" height="8.2" fill="#42210b"/>
<text x="313.6" y="1374.90" font-size="24.35" fill="#111">Basidiomycota</text>
<rect x="276.2" y="1391.50" width="15.7" height="8.2" fill="#a67c52"/>
<text x="313.6" y="1403.10" font-size="24.35" fill="#111">Ascomycota</text>
<rect x="276.2" y="1419.40" width="15.7" height="8.2" fill="#ed1e79"/>
<text x="313.6" y="1431.00" font-size="24.35" fill="#111">Neocallimastigomycota</text>
<rect x="276.2" y="1446.90" width="15.7" height="8.2" fill="#9e005d"/>
<text x="313.6" y="1458.50" font-size="24.35" fill="#111">Basidiomycota</text>
</svg>
</body>
</html>
